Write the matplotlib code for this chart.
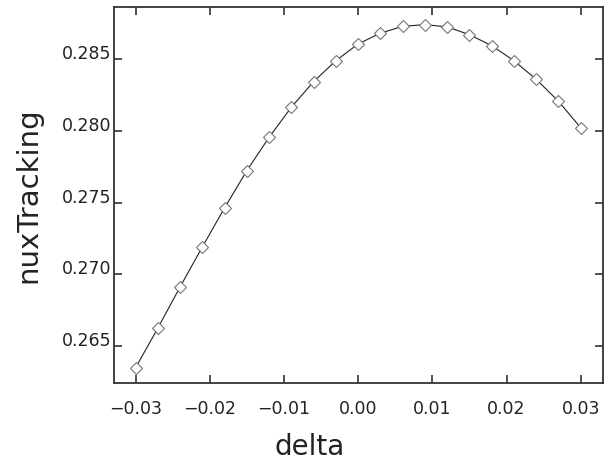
import numpy as np
import matplotlib
matplotlib.use('Agg')
import matplotlib.pyplot as plt

# valeurs
delta = [-0.030, -0.027, -0.024, -0.021, -0.018, -0.015, -0.012, -0.009, -0.006, -0.003,
         0.000, 0.003, 0.006, 0.009, 0.012, 0.015, 0.018, 0.021, 0.024, 0.027, 0.030]
nux = [0.26346, 0.26622, 0.26910, 0.27189, 0.27462, 0.27722, 0.27955, 0.28165, 0.28344, 0.28490,
       0.28607, 0.28682, 0.28730, 0.28742, 0.28726, 0.28672, 0.28595, 0.28490, 0.28360, 0.28207,
       0.28022]
xticks = [-0.03, -0.02, -0.01, 0.00, 0.01, 0.02, 0.03]
yticks = [0.265, 0.270, 0.275, 0.280, 0.285]

plt.rcParams['font.family'] = ['DejaVu Sans']

fig = plt.figure(figsize=(6.06, 4.63), dpi=100)
ax = fig.add_axes([0.1881, 0.1728, 0.8069, 0.8121])

ax.plot(delta, nux, color='#222222', lw=0.8)
ax.plot(delta, nux, ls='none', marker='D', markersize=6, markerfacecolor='white',
        markeredgecolor='#777777', markeredgewidth=0.8)

ax.set_xlim(-0.0329, 0.0330)
ax.set_ylim(0.2624, 0.28865)
ax.set_xticks(xticks)
ax.set_xticklabels([f'{v:.2f}'.replace('-', '\u2212') for v in xticks])
ax.set_yticks(yticks)
ax.set_yticklabels([f'{v:.3f}' for v in yticks])

ax.tick_params(direction='in', top=True, right=True, length=6, width=1.2, color='#333333',
               labelsize=12.5, labelcolor='#222222')
ax.tick_params(axis='x', pad=12)
ax.tick_params(axis='y', pad=2)
for lbl in ax.get_yticklabels():
    lbl.set_verticalalignment('baseline')

for s in ax.spines.values():
    s.set_linewidth(1.3)
    s.set_color('#333333')

ax.set_xlabel('delta', fontsize=20, color='#222222')
ax.set_ylabel('nuxTracking', fontsize=21, color='#222222')
ax.xaxis.set_label_coords(0.40, -0.133)
ax.yaxis.set_label_coords(-0.147, 0.5)

fig.savefig('out.png', dpi=100)
